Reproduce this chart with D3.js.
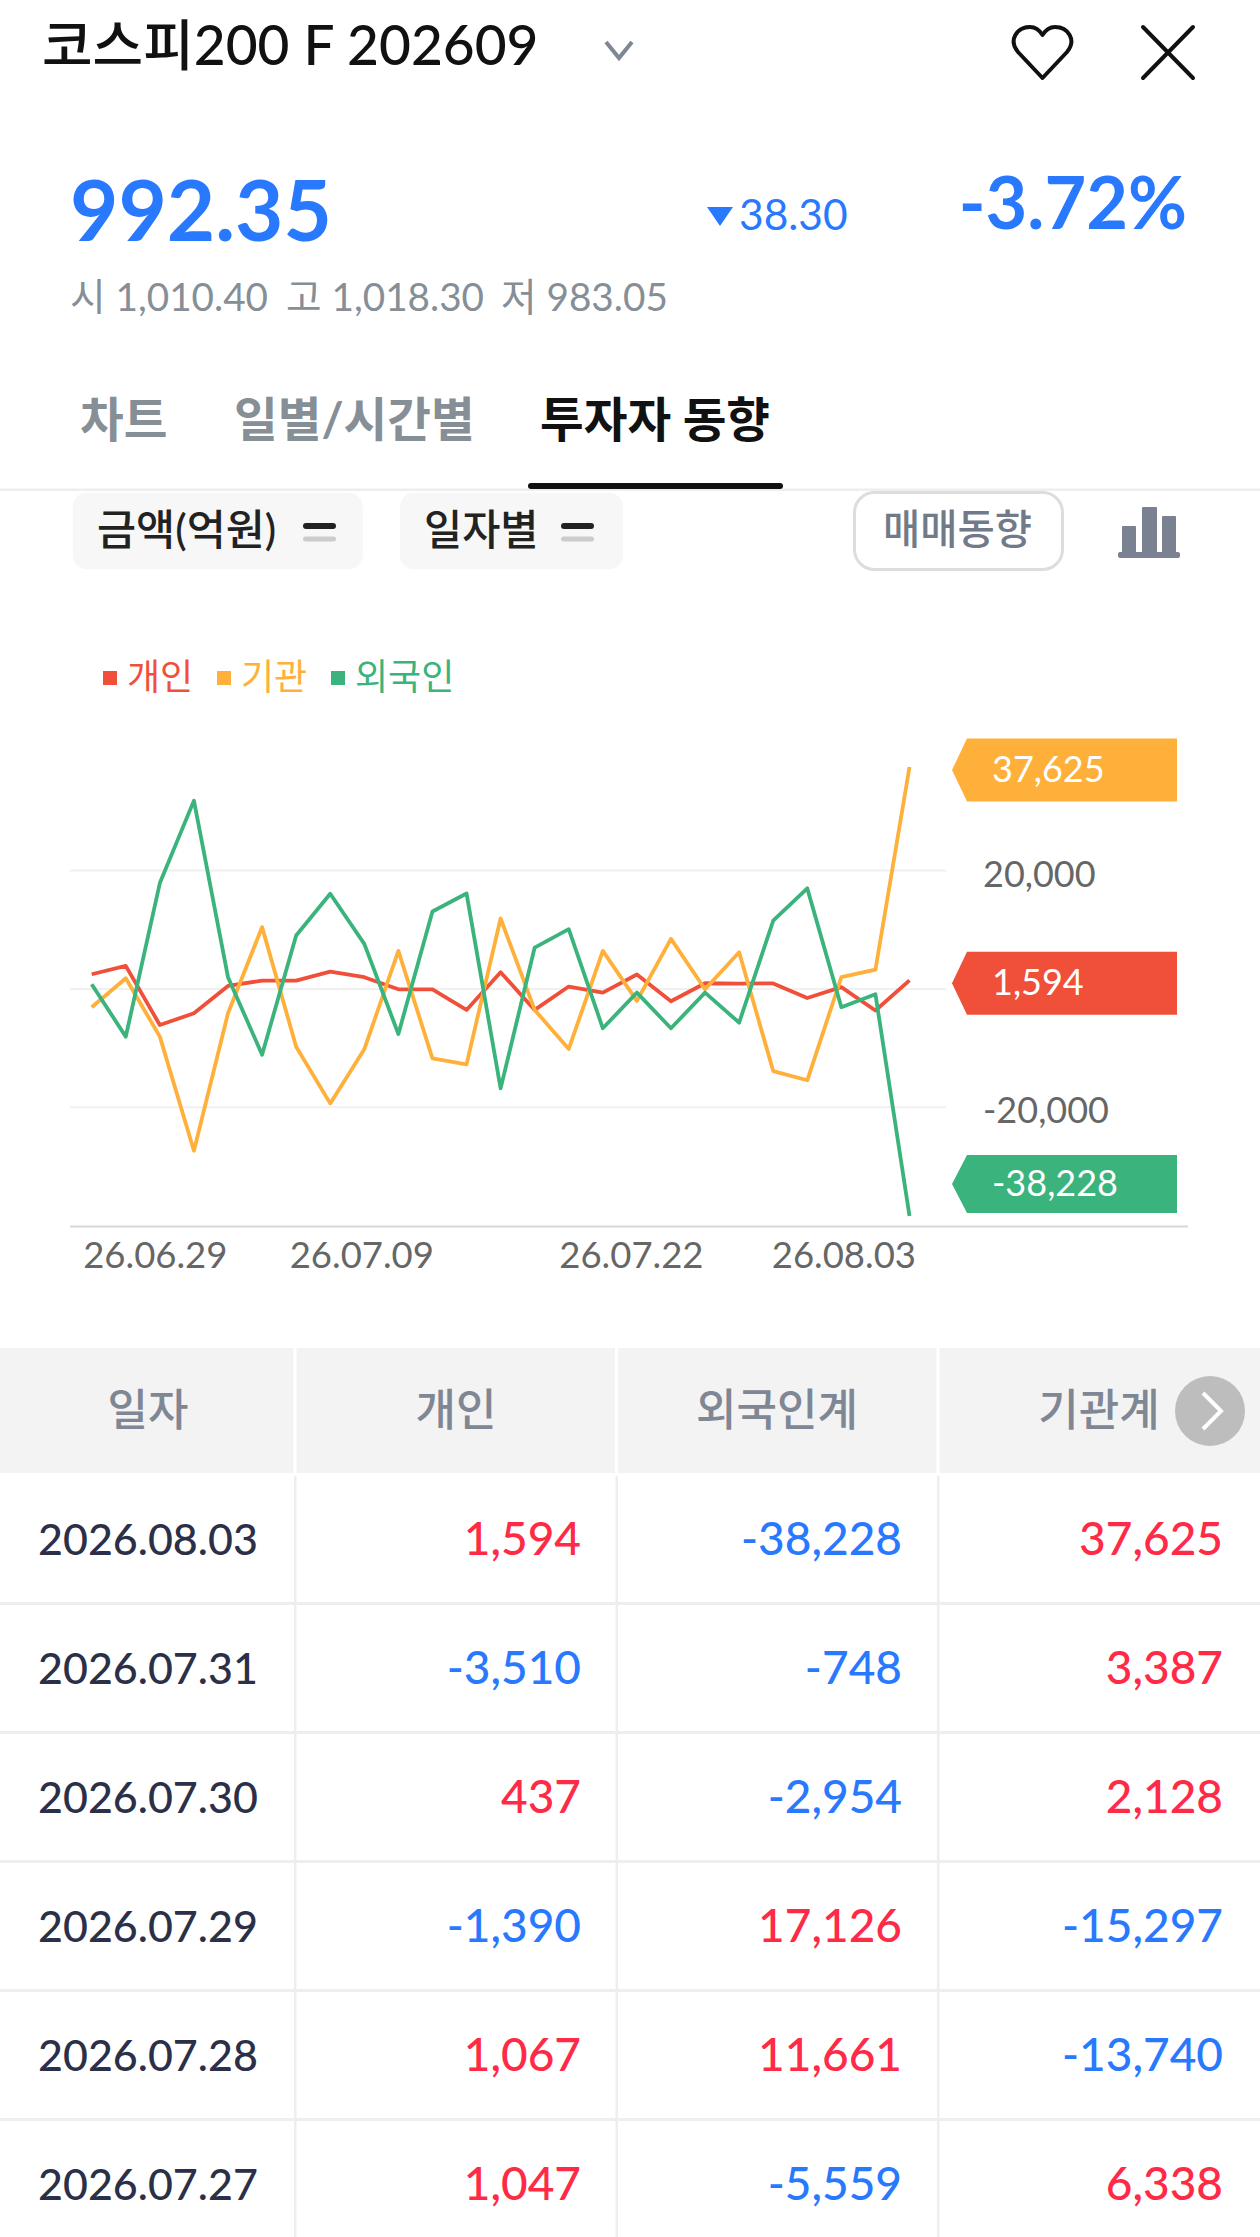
<!DOCTYPE html>
<html>
<head>
<meta charset="utf-8">
<script src="https://cdn.jsdelivr.net/npm/d3@7/dist/d3.min.js"></script>
<style>
  html, body { margin: 0; padding: 0; background: #fff; }
  svg { display: block; }
  text { font-family: Lato, "Noto Sans CJK KR", sans-serif; }
</style>
</head>
<body>
<div id="chart"></div>
<script>
// chart series, oldest first (last six come from the table)
var dates = ["26.06.29","26.06.30","26.07.01","26.07.02","26.07.03","26.07.06","26.07.07","26.07.08","26.07.09",
  "26.07.10","26.07.13","26.07.14","26.07.15","26.07.16","26.07.20","26.07.21","26.07.22","26.07.23","26.07.24",
  "26.07.27","26.07.28","26.07.29","26.07.30","26.07.31","26.08.03"];
var personal = [2620,4030,-5950,-3980,650,1550,1550,3070,2120,80,80,-3410,2960,-3410,540,-480,2570,-1950,1100,1047,1067,-1390,437,-3510,1594];
var institution = [-2960,1950,-7920,-27210,-3980,10580,-9620,-19200,-10070,6570,-11590,-12610,12040,-3410,-10010,6570,-1890,8600,80,6338,-13740,-15297,2128,3387,37625];
var foreign = [930,-7920,18020,31950,2120,-10970,9170,16220,7760,-7470,13230,16270,-16670,7130,10240,-6510,-480,-6510,-480,-5559,11661,17126,-2954,-748,-38228];
var xTicks = ["26.06.29","26.07.09","26.07.22","26.08.03"];
var yTicks = [20000,0,-20000];

var seriesNames = ["개인","기관","외국인"];
var seriesColors = ["#f0503a","#ffb03b","#3bb37c"];

// table, newest first
var tableHeads = ["일자","개인","외국인계","기관계"];
var tableDates = ["2026.08.03","2026.07.31","2026.07.30","2026.07.29","2026.07.28","2026.07.27"];
var tablePersonal = [1594,-3510,437,-1390,1067,1047];
var tableForeign = [-38228,-748,-2954,17126,11661,-5559];
var tableInstitution = [37625,3387,2128,-15297,-13740,6338];

var BLUE = "#2979ff", RED = "#ff2a46", GRAY = "#868e96";

var svg = d3.select("#chart").append("svg").attr("width", 1260).attr("height", 2237);

function label(x, y, str, size, color, weight, anchor) {
  return svg.append("text").attr("x", x).attr("y", y).text(str)
    .style("font-size", size + "px").style("fill", color)
    .style("font-weight", weight || 400).style("text-anchor", anchor || "start");
}
function signed(v) { return d3.format(",")(v).replace("\u2212", "-"); }

// ---- top bar
label(42, 65, "코스피200 F 202609", 55, "#111", 500);
svg.append("path").attr("d", "M606 42L619 58L632 42").attr("fill", "none").attr("stroke", "#7f8794").attr("stroke-width", 4);
svg.append("path").attr("d", "M1042.5 78L1018 52C1008 40 1017 27 1030 27C1036 27 1040 31 1042.5 35C1045 31 1049 27 1055 27C1068 27 1077 40 1067 52Z")
  .attr("fill", "none").attr("stroke", "#111").attr("stroke-width", 4).attr("stroke-linejoin", "round");
svg.append("path").attr("d", "M1143 27L1193 78M1193 27L1143 78").attr("fill", "none").attr("stroke", "#111")
  .attr("stroke-width", 4).attr("stroke-linecap", "round");

// ---- price block
label(70, 241, "992.35", 83.5, BLUE, 700);
svg.append("path").attr("d", "M707 207H733L720 226Z").attr("fill", BLUE);
label(739, 230, "38.30", 42.5, BLUE, 400);
label(1187, 229, "-3.72%", 72, BLUE, 700, "end");
label(70, 311, "시 1,010.40", 38.7, GRAY);
label(286, 311, "고 1,018.30", 38.7, GRAY);
label(501, 311, "저 983.05", 38.7, GRAY);

// ---- tabs
label(80, 437, "차트", 47.5, GRAY, 700);
label(234, 437, "일별/시간별", 47.5, GRAY, 700);
label(540, 437, "투자자 동향", 47.5, "#111", 700);
svg.append("rect").attr("x", 0).attr("y", 488.5).attr("width", 1260).attr("height", 2.5).attr("fill", "#eeeeee");
svg.append("rect").attr("x", 528).attr("y", 483).attr("width", 255).attr("height", 6).attr("rx", 3).attr("fill", "#111");

// ---- option buttons
function pill(x, w, str, size, textX, lineX) {
  svg.append("rect").attr("x", x).attr("y", 492.7).attr("width", w).attr("height", 76.6).attr("rx", 14).attr("fill", "#f7f7f7");
  label(textX, 545, str, size, "#222", 500);
  svg.append("rect").attr("x", lineX).attr("y", 523).attr("width", 33).attr("height", 6).attr("rx", 3).attr("fill", "#222");
  svg.append("rect").attr("x", lineX).attr("y", 536.5).attr("width", 33).attr("height", 5).attr("rx", 2.5).attr("fill", "#ccc");
}
pill(72.7, 290, "금액(억원)", 42.5, 97, 303);
pill(400, 223, "일자별", 41.5, 424, 561);
svg.append("rect").attr("x", 854.5).attr("y", 492.5).attr("width", 208).attr("height", 77).attr("rx", 20)
  .attr("fill", "#fff").attr("stroke", "#ddd").attr("stroke-width", 3);
label(883, 544, "매매동향", 40.5, "#717a88", 500);
svg.append("rect").attr("x", 1118).attr("y", 552).attr("width", 62).attr("height", 6).attr("rx", 2).attr("fill", "#7a8291");
[[1122, 526, 14], [1142, 507, 15], [1162, 516, 14]].forEach(function(b) {
  svg.append("rect").attr("x", b[0]).attr("y", b[1]).attr("width", b[2]).attr("height", 553 - b[1]).attr("rx", 1).attr("fill", "#7a8291");
});

// ---- legend
var legendX = [103, 217, 331];
seriesNames.forEach(function(name, i) {
  svg.append("rect").attr("x", legendX[i]).attr("y", 671).attr("width", 14).attr("height", 14).attr("fill", seriesColors[i]);
  label(legendX[i] + 24, 690, name, 36, seriesColors[i]);
});

// ---- chart
var x = d3.scalePoint().domain(dates).range([91.7, 909.5]);
var y = d3.scaleLinear().domain([-40000, 40000]).range([1226.5, 753]);

var yAxis = d3.axisRight(y).tickValues(yTicks).tickSize(876).tickFormat(function(d) { return d === 0 ? "" : signed(d); });
var yG = svg.append("g").attr("transform", "translate(70,-1.3)").call(yAxis);
yG.select(".domain").remove();
yG.selectAll("line").attr("stroke", "#f0f0f0").attr("stroke-width", 2);
yG.selectAll("text").attr("x", 913).attr("y", 4.5).attr("dy", "0.32em")
  .style("font-size", "36px").style("fill", "#666").style("font-family", "Lato, sans-serif");

var xAxis = d3.axisBottom(x).tickValues(xTicks).tickSize(0).tickPadding(16);
var xG = svg.append("g").attr("transform", "translate(0,1226.5)").call(xAxis);
xG.select(".domain").remove();
xG.selectAll("text")
  .style("font-size", "36.5px").style("fill", "#666").style("font-family", "Lato, sans-serif")
  .style("text-anchor", function(d) { return d === xTicks[0] ? "start" : d === xTicks[3] ? "end" : "middle"; })
  .attr("dx", function(d) { return d === xTicks[0] ? -9 : d === xTicks[3] ? 6 : d === xTicks[1] ? -3 : -6; });
svg.append("line").attr("x1", 70).attr("x2", 1188).attr("y1", 1226.5).attr("y2", 1226.5).attr("stroke", "#d8d8d8").attr("stroke-width", 2);

var line = d3.line().x(function(d, i) { return x(dates[i]); }).y(function(d) { return y(d); });
[personal, institution, foreign].forEach(function(values, i) {
  svg.append("path").datum(values).attr("d", line).attr("fill", "none")
    .attr("stroke", seriesColors[i]).attr("stroke-width", 3.8).attr("stroke-linejoin", "round");
});

// value tags at the right edge, kept above the x axis
var tagOrder = [institution, personal, foreign];
var tagColors = [seriesColors[1], seriesColors[0], seriesColors[2]];
tagOrder.forEach(function(values, i) {
  var v = values[values.length - 1];
  var cy = Math.min(y(v) + 3, 1184);
  var h = i === 2 ? 29 : 31.5;
  svg.append("path").attr("fill", tagColors[i])
    .attr("d", "M952 " + cy + "L967 " + (cy - h) + "H1177V" + (cy + h) + "H967Z");
  label(992, cy + 12, signed(v), 36, "#fff").style("font-family", "Lato, sans-serif");
});

// ---- table
var colEdges = [295, 616.5, 938];
var headCenters = [148, 456, 777, 1099];
svg.append("rect").attr("x", 0).attr("y", 1348).attr("width", 1260).attr("height", 125).attr("fill", "#f3f3f3");
colEdges.forEach(function(c) {
  svg.append("rect").attr("x", c - 1.5).attr("y", 1348).attr("width", 3).attr("height", 125).attr("fill", "#fff");
  svg.append("rect").attr("x", c - 1).attr("y", 1476).attr("width", 2.5).attr("height", 761).attr("fill", "#eeeeee");
});
tableHeads.forEach(function(h, i) {
  label(headCenters[i], 1426, h, 44, "#7f8794", 500, "middle");
});
svg.append("circle").attr("cx", 1210).attr("cy", 1411).attr("r", 35).attr("fill", "#bdbdbd");
svg.append("path").attr("d", "M1203 1393L1221 1411L1203 1429").attr("fill", "none").attr("stroke", "#fff").attr("stroke-width", 4);

var rowY = d3.scaleLinear().domain([0, 1]).range([1555, 1684]);
function signColor(v) { return v < 0 ? BLUE : RED; }
tableDates.forEach(function(d, i) {
  if (i > 0) svg.append("rect").attr("x", 0).attr("y", rowY(i) - 82).attr("width", 1260).attr("height", 3).attr("fill", "#eeeeee");
  label(38, rowY(i), d, 43, "#2b3048", 500);
  label(581, rowY(i), signed(tablePersonal[i]), 46, signColor(tablePersonal[i]), 500, "end");
  label(902, rowY(i), signed(tableForeign[i]), 46, signColor(tableForeign[i]), 500, "end");
  label(1223, rowY(i), signed(tableInstitution[i]), 46, signColor(tableInstitution[i]), 500, "end");
});
</script>
</body>
</html>
